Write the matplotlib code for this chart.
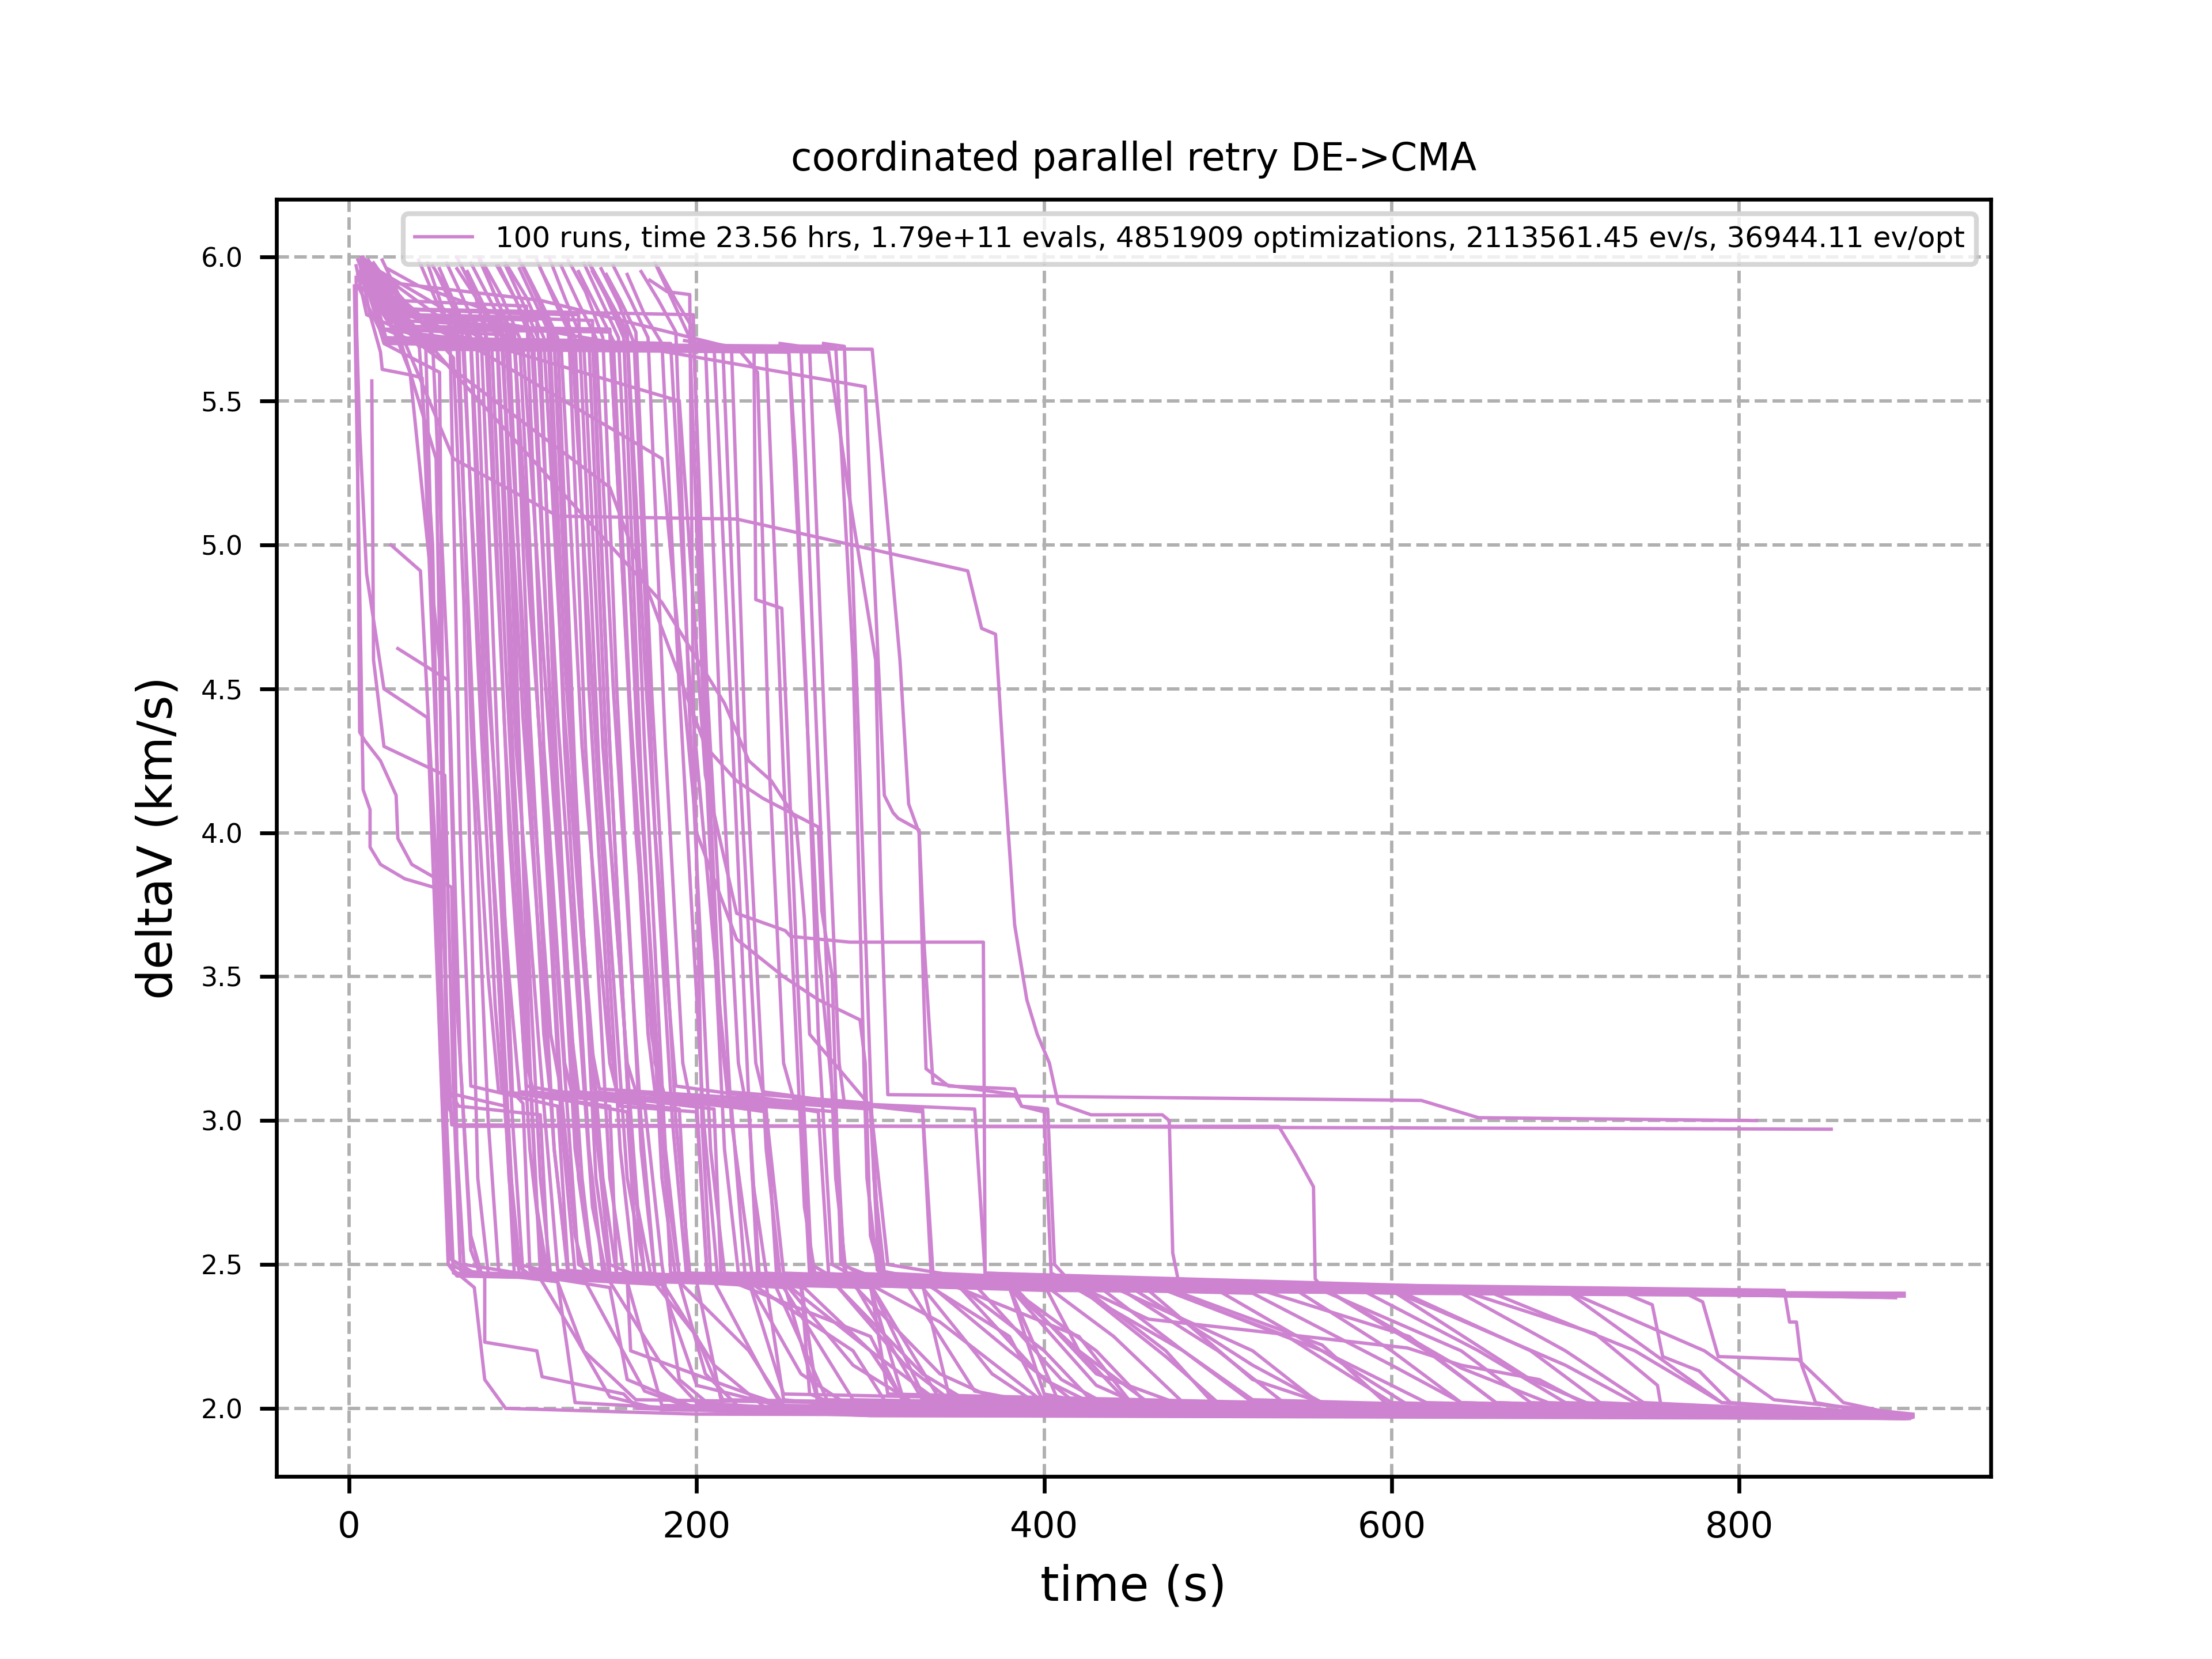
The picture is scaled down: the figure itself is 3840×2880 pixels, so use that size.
import matplotlib
matplotlib.use("Agg")
import matplotlib.pyplot as plt

# best deltaV (km/s) over time (s) for every retry run
runs_top = [
    [(8, 6.0), (20, 5.75), (45, 5.69), (276, 5.67), (287, 5.2), (303, 4.6), (306, 3.8), (310, 3.09), (617, 3.07), (650, 3.01), (810, 3.0)],
    [(10, 5.95), (22, 5.8), (35, 5.6), (52, 4.6), (56, 3.3), (59, 2.985), (853, 2.97)],
]

runs_mid = [
    [(10, 5.98), (22, 5.8), (48, 5.7), (58, 4.4), (64, 3.2), (70, 2.55), (75, 2.47), (240, 2.43), (500, 2.41), (893, 2.40)],
    [(75, 6.0), (85, 5.85), (95, 5.72), (112, 4.1), (122, 3.1), (130, 2.6), (136, 2.46), (400, 2.41), (890, 2.39)],
    [(15, 5.95), (30, 5.76), (150, 5.75), (165, 4.0), (176, 3.2), (182, 3.08), (240, 3.03), (250, 2.47), (600, 2.40), (893, 2.39)],
    [(6, 5.9), (40, 5.72), (185, 5.7), (195, 4.6), (210, 3.6), (218, 3.1), (300, 3.06), (310, 2.5), (360, 2.45), (700, 2.40), (895, 2.40)],
    [(50, 5.95), (60, 5.82), (70, 5.7), (80, 4.2), (90, 3.0), (98, 2.5), (130, 2.45), (520, 2.42), (890, 2.385)],
    [(20, 5.9), (50, 5.3), (57, 3.05), (62, 2.98), (535, 2.98), (545, 2.88), (555, 2.77), (556, 2.45), (560, 2.42), (895, 2.39)],
    [(15, 5.95), (60, 5.3), (120, 5.1), (223, 5.09), (356, 4.91), (364, 4.71), (372, 4.69), (377, 4.21), (383, 3.68),
     (390, 3.42), (396, 3.30), (403, 3.2), (408, 3.06), (427, 3.02), (468, 3.02), (472, 3.0), (474, 2.54), (477, 2.45),
     (560, 2.42), (893, 2.395)],
    [(9, 5.97), (45, 5.68), (253, 5.67), (261, 4.7), (270, 3.6), (278, 3.1), (285, 2.5), (300, 2.44), (890, 2.385)],
]

runs_low = [
    [(4, 5.93), (6, 4.35), (9, 4.32), (18, 4.25), (27, 4.13), (28, 3.98), (36, 3.89), (59, 3.81), (62, 2.9), (66, 2.5), (150, 2.42), (160, 2.1), (200, 2.0), (300, 1.975), (897, 1.965)],
    [(3, 5.9), (8, 4.15), (12, 4.08), (12, 3.95), (18, 3.89), (32, 3.84), (49, 3.81), (54, 3.0), (58, 2.52), (75, 2.46), (240, 2.43), (250, 2.03), (330, 1.98), (895, 1.97)],
    [(13, 5.57), (14, 4.6), (20, 4.3), (55, 4.2), (60, 3.1), (64, 2.48), (120, 2.44), (130, 2.02), (220, 1.99), (896, 1.975)],
    [(24, 5.0), (41, 4.91), (50, 3.9), (56, 2.9), (60, 2.47), (180, 2.43), (200, 2.08), (260, 1.99), (899, 1.97)],
    [(28, 4.64), (57, 4.53), (62, 3.4), (70, 2.6), (76, 2.47), (78, 2.46), (78, 2.23), (108, 2.2), (111, 2.11), (158, 2.05), (166, 2.0), (300, 1.975), (898, 1.968)],
    [(6, 5.98), (12, 5.8), (18, 5.67), (19, 5.61), (36, 5.59), (42, 5.58), (52, 4.0), (58, 3.1), (63, 3.05), (110, 3.02), (115, 2.45), (300, 2.42), (320, 2.01), (898, 1.97)],
    [(45, 5.98), (55, 5.8), (62, 5.7), (72, 4.3), (80, 3.5), (86, 3.1), (170, 3.06), (180, 2.5), (190, 2.1), (210, 2.0), (895, 1.97)],
    [(5, 5.99), (17, 5.82), (30, 5.75), (65, 5.74), (75, 4.6), (88, 3.4), (96, 2.5), (105, 2.46), (380, 2.42), (400, 2.05), (450, 1.99), (899, 1.972)],
    [(52, 5.96), (62, 5.82), (70, 5.72), (80, 4.5), (92, 3.5), (98, 3.1), (220, 3.05), (228, 2.45), (260, 2.42), (270, 2.02), (350, 1.98), (893, 1.968)],
    [(7, 5.92), (20, 5.8), (78, 5.78), (90, 4.3), (104, 2.9), (112, 2.47), (150, 2.44), (180, 2.15), (200, 2.02), (300, 1.98), (898, 1.965)],
    [(62, 6.0), (72, 5.88), (80, 5.7), (92, 4.0), (102, 3.12), (140, 3.08), (150, 2.5), (170, 2.45), (520, 2.4), (600, 2.15), (640, 2.02), (900, 1.97)],
    [(9, 5.96), (25, 5.8), (85, 5.76), (96, 4.3), (110, 3.2), (120, 2.48), (190, 2.44), (230, 2.2), (250, 2.01), (896, 1.97)],
    [(68, 5.95), (80, 5.8), (88, 5.72), (100, 4.4), (118, 2.9), (126, 2.46), (420, 2.41), (480, 2.2), (520, 2.03), (897, 1.967)],
    [(6, 5.93), (25, 5.75), (90, 5.73), (104, 4.3), (116, 3.3), (122, 3.1), (260, 3.04), (265, 2.46), (300, 2.43), (330, 2.05), (360, 1.99), (898, 1.97)],
    [(75, 5.99), (86, 5.84), (95, 5.7), (104, 4.8), (120, 3.5), (132, 2.5), (140, 2.47), (210, 2.44), (240, 2.1), (250, 2.0), (895, 1.965)],
    [(5, 5.9), (20, 5.72), (100, 5.7), (112, 4.6), (126, 3.4), (132, 3.1), (180, 3.07), (185, 2.47), (470, 2.41), (560, 2.2), (610, 2.01), (900, 1.972)],
    [(85, 5.97), (96, 5.85), (105, 5.7), (118, 4.2), (134, 2.8), (140, 2.48), (160, 2.45), (162, 2.2), (230, 2.05), (260, 1.99), (897, 1.965)],
    [(17, 5.95), (28, 5.8), (108, 5.78), (120, 4.4), (140, 2.7), (148, 2.46), (350, 2.42), (420, 2.25), (450, 2.02), (898, 1.97)],
    [(90, 5.98), (102, 5.86), (112, 5.72), (124, 4.4), (138, 3.3), (144, 3.11), (300, 3.05), (306, 2.47), (380, 2.42), (420, 2.2), (460, 2.02), (895, 1.968)],
    [(7, 5.97), (35, 5.8), (115, 5.79), (124, 4.6), (140, 3.2), (150, 2.47), (190, 2.44), (205, 2.12), (225, 2.0), (896, 1.966)],
    [(98, 5.96), (108, 5.83), (118, 5.7), (130, 4.0), (146, 2.8), (154, 2.46), (260, 2.43), (300, 2.2), (320, 2.02), (899, 1.97)],
    [(9, 5.99), (22, 5.7), (122, 5.69), (134, 4.3), (150, 3.2), (156, 3.05), (200, 3.03), (206, 2.46), (245, 2.43), (275, 2.03), (896, 1.97)],
    [(108, 5.99), (118, 5.85), (128, 5.72), (140, 4.5), (156, 2.9), (164, 2.46), (600, 2.41), (700, 2.15), (740, 2.02), (900, 1.975)],
    [(12, 5.97), (24, 5.82), (132, 5.8), (144, 4.2), (160, 2.8), (170, 2.47), (230, 2.44), (290, 2.2), (310, 2.01), (897, 1.97)],
    [(115, 6.0), (124, 5.86), (135, 5.7), (146, 4.3), (160, 3.2), (165, 3.1), (200, 3.06), (206, 2.47), (260, 2.44), (265, 2.05), (290, 1.99), (895, 1.965)],
    [(8, 5.95), (20, 5.71), (138, 5.7), (150, 4.0), (166, 2.7), (174, 2.45), (200, 2.25), (215, 2.03), (899, 1.97)],
    [(122, 5.97), (132, 5.84), (142, 5.72), (152, 4.5), (168, 3.0), (176, 2.46), (470, 2.41), (540, 2.25), (600, 2.02), (898, 1.97)],
    [(7, 5.99), (18, 5.75), (150, 5.74), (160, 4.6), (174, 3.3), (180, 3.09), (240, 3.04), (246, 2.46), (280, 2.43), (330, 2.12), (360, 2.01), (897, 1.97)],
    [(135, 5.98), (145, 5.85), (155, 5.72), (166, 4.3), (182, 2.8), (190, 2.46), (300, 2.43), (340, 2.03), (895, 1.968)],
    [(140, 5.96), (150, 5.85), (160, 5.74), (170, 4.6), (186, 3.0), (194, 2.47), (250, 2.44), (290, 2.15), (330, 2.0), (898, 1.968)],
    [(145, 5.96), (155, 5.84), (164, 5.7), (176, 4.0), (188, 3.12), (260, 3.06), (266, 2.47), (350, 2.43), (400, 2.1), (430, 2.01), (899, 1.97)],
    [(173, 5.92), (183, 5.88), (196, 5.87), (198, 4.5), (203, 3.0), (208, 2.47), (380, 2.42), (430, 2.08), (460, 2.0), (898, 1.97)],
    [(10, 5.97), (31, 5.82), (198, 5.8), (204, 4.6), (214, 3.3), (218, 3.08), (270, 3.03), (276, 2.46), (440, 2.42), (520, 2.2), (560, 2.01), (897, 1.968)],
    [(178, 5.96), (188, 5.85), (198, 5.75), (206, 4.5), (220, 3.0), (232, 2.46), (330, 2.43), (345, 2.05), (400, 1.99), (895, 1.965)],
    [(160, 5.94), (170, 5.8), (180, 5.7), (190, 4.5), (204, 3.0), (212, 2.46), (560, 2.41), (640, 2.2), (680, 2.02), (900, 1.972)],
    [(6, 5.95), (48, 5.69), (233, 5.68), (234, 4.81), (249, 4.78), (258, 3.5), (266, 2.5), (280, 2.45), (640, 2.4), (700, 2.2), (745, 2.02), (898, 1.975)],
    [(9, 5.99), (44, 5.69), (253, 5.67), (257, 5.3), (263, 4.5), (270, 3.3), (278, 2.5), (290, 2.46), (400, 2.43), (420, 2.2), (450, 2.01), (899, 1.97)],
    [(12, 5.92), (110, 5.85), (224, 5.68), (235, 5.6), (242, 4.2), (250, 3.2), (256, 3.07), (330, 3.04), (336, 2.47), (520, 2.42), (610, 2.25), (660, 2.02), (896, 1.97)],
    [(8, 5.96), (40, 5.7), (210, 5.69), (220, 4.4), (232, 2.8), (240, 2.47), (320, 2.44), (360, 2.06), (420, 1.99), (897, 1.966)],
    [(203, 5.7), (215, 5.69), (225, 4.2), (234, 3.2), (238, 3.1), (300, 3.05), (306, 2.46), (700, 2.41), (760, 2.15), (790, 2.02), (900, 1.975)],
    [(11, 5.95), (46, 5.69), (240, 5.68), (250, 4.2), (262, 2.7), (268, 2.47), (380, 2.44), (430, 2.12), (480, 2.01), (898, 1.97)],
    [(248, 5.7), (260, 5.69), (270, 4.2), (280, 2.8), (286, 2.47), (470, 2.42), (560, 2.22), (600, 2.0), (899, 1.97)],
    [(14, 5.97), (42, 5.7), (280, 5.69), (290, 4.6), (298, 2.8), (304, 2.48), (330, 2.45), (380, 2.2), (420, 2.01), (896, 1.968)],
    [(7, 5.99), (40, 5.69), (301, 5.68), (317, 4.6), (322, 4.1), (328, 4.0), (330, 3.57), (332, 3.18), (345, 3.12), (383, 3.11), (387, 3.05), (402, 3.04), (406, 2.5), (412, 2.46), (600, 2.42), (680, 2.2), (720, 2.02), (897, 1.972)],
    [(15, 5.96), (60, 5.8), (297, 5.55), (305, 4.53), (308, 4.13), (313, 4.07), (316, 4.05), (328, 4.01), (331, 3.6), (336, 3.13), (383, 3.09), (387, 3.05), (400, 3.03), (404, 2.47), (460, 2.31), (609, 2.21), (640, 2.15), (685, 2.1), (710, 2.02), (897, 1.97)],
    [(12, 5.95), (50, 5.75), (190, 5.5), (205, 4.2), (223, 3.72), (251, 3.66), (254, 3.64), (288, 3.62), (365, 3.62), (366, 2.47), (540, 2.43), (600, 2.2), (640, 2.02), (898, 1.97)],
    [(6, 5.98), (20, 5.7), (52, 5.6), (56, 3.0), (60, 2.48), (64, 2.46), (72, 2.42), (78, 2.1), (90, 2.0), (200, 1.98), (895, 1.97)],
    [(9, 5.93), (18, 5.75), (58, 5.72), (64, 4.0), (70, 3.12), (120, 3.05), (126, 2.48), (200, 2.44), (215, 2.0), (897, 1.966)],
    [(40, 5.99), (52, 5.82), (63, 5.72), (70, 4.4), (80, 3.0), (86, 2.48), (110, 2.45), (130, 2.25), (150, 2.04), (180, 1.995), (896, 1.968)],
    [(5, 5.94), (28, 5.82), (66, 5.7), (74, 4.6), (84, 3.4), (88, 3.1), (150, 3.05), (154, 2.46), (330, 2.42), (370, 2.12), (400, 2.0), (899, 1.97)],
    [(48, 5.97), (60, 5.85), (70, 5.7), (78, 4.4), (92, 2.8), (98, 2.46), (120, 2.44), (135, 2.2), (165, 2.03), (897, 1.968)],
    [(8, 5.91), (22, 5.8), (73, 5.78), (80, 4.6), (94, 3.0), (100, 2.47), (280, 2.43), (320, 2.15), (350, 2.01), (898, 1.97)],
    [(56, 5.98), (66, 5.85), (76, 5.72), (86, 4.2), (94, 3.1), (100, 3.06), (104, 2.48), (135, 2.45), (170, 2.06), (200, 1.995), (896, 1.967)],
    [(7, 5.99), (50, 5.8), (82, 5.7), (90, 4.6), (102, 3.2), (106, 3.1), (190, 3.04), (195, 2.47), (600, 2.41), (680, 2.1), (720, 2.0), (897, 1.972)],
    [(62, 5.96), (74, 5.85), (85, 5.72), (94, 4.3), (108, 2.7), (114, 2.47), (160, 2.44), (180, 2.01), (898, 1.966)],
    [(15, 5.93), (35, 5.8), (88, 5.78), (98, 4.2), (110, 2.8), (116, 2.46), (420, 2.42), (470, 2.18), (500, 2.02), (896, 1.97)],
    [(70, 5.98), (82, 5.84), (92, 5.72), (100, 4.6), (112, 3.3), (116, 3.08), (160, 3.03), (166, 2.47), (230, 2.44), (260, 2.12), (290, 2.0), (899, 1.968)],
    [(13, 5.97), (28, 5.78), (95, 5.76), (104, 4.4), (118, 2.9), (126, 2.47), (300, 2.43), (310, 2.05), (897, 1.97)],
    [(78, 5.97), (88, 5.86), (98, 5.72), (108, 4.5), (122, 3.0), (130, 2.47), (180, 2.44), (210, 2.15), (240, 2.0), (898, 1.966)],
    [(11, 5.99), (25, 5.85), (102, 5.83), (112, 4.3), (124, 3.2), (128, 3.1), (210, 3.04), (214, 2.46), (380, 2.42), (410, 2.0), (896, 1.97)],
    [(90, 5.97), (100, 5.84), (110, 5.7), (118, 4.4), (132, 2.8), (140, 2.46), (250, 2.42), (290, 2.03), (897, 1.97)],
    [(12, 5.98), (36, 5.82), (114, 5.8), (124, 4.3), (138, 2.9), (146, 2.47), (500, 2.41), (560, 2.2), (620, 2.02), (900, 1.975)],
    [(98, 5.99), (108, 5.86), (118, 5.72), (126, 4.6), (138, 3.3), (142, 3.1), (230, 3.04), (235, 2.47), (290, 2.44), (330, 2.03), (898, 1.97)],
    [(10, 5.95), (22, 5.82), (126, 5.8), (136, 4.3), (150, 2.8), (158, 2.47), (350, 2.43), (400, 2.2), (430, 2.01), (899, 1.97)],
    [(110, 5.96), (120, 5.84), (130, 5.72), (138, 4.5), (150, 3.3), (154, 3.1), (260, 3.05), (266, 2.47), (450, 2.42), (520, 2.15), (560, 2.02), (897, 1.97)],
    [(9, 5.92), (20, 5.72), (140, 5.71), (150, 4.3), (162, 2.9), (170, 2.47), (230, 2.44), (250, 2.05), (896, 1.97)],
    [(126, 5.99), (136, 5.88), (146, 5.72), (154, 4.5), (168, 2.9), (176, 2.46), (290, 2.43), (340, 2.12), (380, 2.01), (899, 1.968)],
    [(132, 5.95), (142, 5.83), (152, 5.71), (162, 4.4), (172, 3.3), (176, 3.1), (230, 3.04), (236, 2.46), (260, 2.44), (270, 2.0), (897, 1.97)],
    [(138, 5.98), (148, 5.86), (158, 5.72), (168, 4.2), (180, 2.8), (188, 2.45), (460, 2.41), (520, 2.1), (570, 2.0), (898, 1.972)],
    [(148, 5.94), (156, 5.85), (165, 5.74), (174, 4.5), (188, 3.0), (196, 2.47), (250, 2.44), (300, 2.2), (340, 2.02), (896, 1.967)],
    [(152, 5.97), (162, 5.85), (172, 5.72), (182, 4.3), (192, 3.2), (196, 3.08), (280, 3.03), (285, 2.47), (560, 2.42), (640, 2.14), (690, 2.02), (899, 1.97)],
    [(168, 5.95), (178, 5.85), (188, 5.74), (196, 4.4), (208, 2.9), (216, 2.47), (330, 2.44), (380, 2.25), (400, 2.02), (898, 1.97)],
    [(176, 5.98), (186, 5.85), (196, 5.72), (204, 4.4), (216, 2.9), (224, 2.47), (580, 2.42), (650, 2.2), (700, 2.02), (900, 1.975)],
    [(193, 5.71), (205, 5.7), (214, 4.3), (224, 3.2), (228, 3.07), (300, 3.04), (305, 2.46), (420, 2.43), (470, 2.2), (500, 2.0), (897, 1.97)],
    [(208, 5.7), (220, 5.69), (228, 4.3), (240, 2.9), (248, 2.46), (360, 2.43), (410, 2.1), (440, 2.0), (898, 1.968)],
    [(6, 5.94), (44, 5.69), (265, 5.68), (274, 4.3), (282, 3.2), (285, 3.06), (360, 3.04), (366, 2.47), (650, 2.42), (740, 2.2), (790, 2.02), (899, 1.975)],
    [(273, 5.7), (285, 5.69), (294, 4.2), (302, 2.8), (308, 2.47), (440, 2.43), (500, 2.2), (540, 2.01), (897, 1.97)],
    [(10, 5.9), (40, 5.7), (150, 5.2), (205, 4.3), (223, 4.18), (238, 4.12), (270, 4.02), (272, 3.73), (278, 3.5), (283, 2.5), (300, 2.46), (560, 2.42), (620, 2.2), (660, 2.02), (897, 1.97)],
    [(8, 5.97), (60, 5.6), (180, 4.8), (216, 4.45), (230, 4.25), (243, 4.18), (257, 4.05), (262, 3.7), (265, 3.3), (300, 3.05), (330, 3.03), (335, 2.46), (430, 2.43), (480, 2.2), (520, 2.02), (898, 1.968)],
    [(13, 5.95), (40, 5.8), (180, 5.3), (200, 4.0), (223, 3.63), (250, 3.5), (270, 3.42), (294, 3.35), (297, 3.2), (300, 2.6), (306, 2.47), (400, 2.43), (440, 2.25), (480, 2.02), (897, 1.97)],
    [(4, 5.97), (10, 5.8), (40, 5.72), (48, 5.0), (53, 3.5), (57, 2.5), (62, 2.46), (300, 2.43), (340, 2.3), (400, 2.02), (899, 1.97)],
    [(7, 6.0), (15, 5.86), (44, 5.7), (50, 4.4), (54, 3.1), (90, 3.05), (95, 2.47), (250, 2.44), (270, 2.02), (897, 1.967)],
    [(19, 5.99), (30, 5.85), (60, 5.65), (66, 4.8), (74, 2.8), (80, 2.47), (220, 2.44), (300, 2.25), (320, 2.01), (898, 1.968)],
    [(22, 5.96), (40, 5.9), (87, 5.8), (94, 5.0), (104, 3.2), (110, 2.47), (700, 2.41), (780, 2.2), (820, 2.03), (900, 1.98)],
    [(4, 5.8), (6, 5.4), (10, 4.9), (20, 4.5), (45, 4.4), (52, 3.3), (57, 2.5), (75, 2.46), (380, 2.42), (430, 2.2), (460, 2.01), (896, 1.97)],
    [(100, 5.97), (110, 5.85), (120, 5.72), (130, 4.2), (142, 2.8), (150, 2.45), (734, 2.40), (750, 2.36), (756, 2.18), (777, 2.13), (795, 2.02), (898, 1.975)],
    [(14, 5.98), (35, 5.8), (140, 5.78), (150, 4.3), (162, 2.9), (170, 2.45), (769, 2.40), (779, 2.37), (788, 2.18), (834, 2.17), (860, 2.02), (898, 1.97)],
    [(140, 5.95), (150, 5.84), (160, 5.72), (170, 4.3), (182, 2.9), (190, 2.46), (826, 2.41), (829, 2.3), (833, 2.3), (836, 2.15), (844, 2.02), (863, 2.0), (900, 1.978)],
    [(86, 5.97), (96, 5.85), (106, 5.72), (116, 4.4), (130, 2.9), (140, 2.46), (645, 2.40), (717, 2.26), (729, 2.2), (739, 2.15), (753, 2.08), (755, 2.01), (793, 2.0), (897, 1.975)],
]

legend_label = ("100 runs, time 23.56 hrs, 1.79e+11 evals, 4851909 optimizations, "
                "2113561.45 ev/s, 36944.11 ev/opt")
line_color = "#ce83d0"

fig = plt.figure(figsize=(6.4, 4.8), dpi=600)
ax = fig.add_subplot(111)

all_runs = runs_top + runs_mid + runs_low
for i, run in enumerate(all_runs):
    t = [p[0] for p in run]
    v = [p[1] for p in run]
    ax.plot(t, v, color=line_color, linewidth=0.7,
            label=legend_label if i == 0 else None)

ax.set_title("coordinated parallel retry DE->CMA", fontsize=8)
ax.set_xlabel("time (s)", fontsize=10)
ax.set_ylabel("deltaV (km/s)", fontsize=10)
ax.tick_params(axis="x", labelsize=7.5)
ax.tick_params(axis="y", labelsize=5.5)
ax.grid(True, linestyle="--", color="#b0b0b0", linewidth=0.7)
ax.legend(loc="upper right", fontsize=6.0)

fig.savefig("out.png", dpi=600)
